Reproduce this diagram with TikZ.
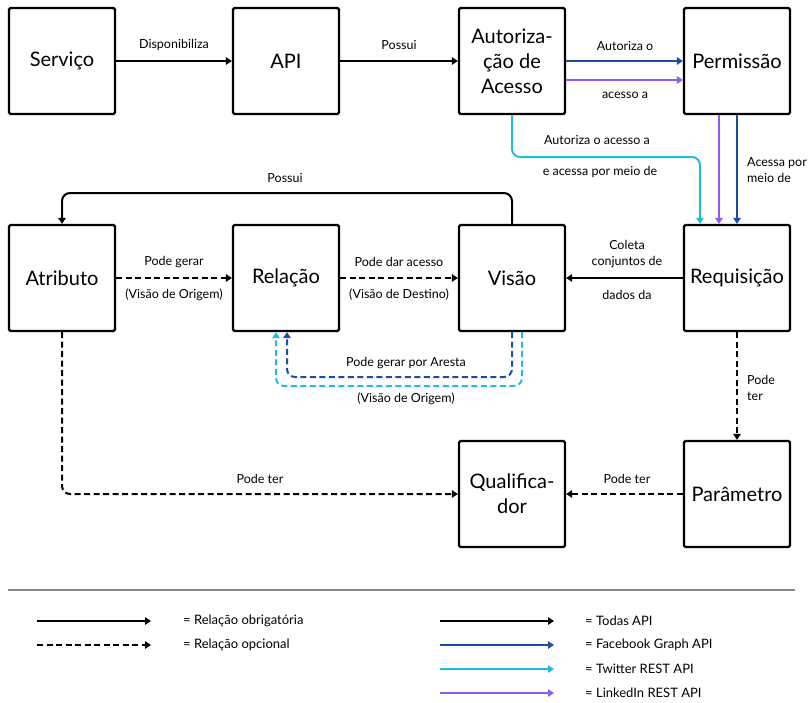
\documentclass[tikz,border=0pt]{standalone}
\usepackage{fontspec}
\setmainfont{Lato}
\usetikzlibrary{arrows.meta}
\definecolor{fbblue}{HTML}{1A4DA8}
\definecolor{twcyan}{HTML}{1EBDE0}
\definecolor{lipurple}{HTML}{8C5CF7}
\definecolor{rulegray}{HTML}{8A8A8A}

\begin{document}
\begin{tikzpicture}[x=1pt,y=-1pt,
  box/.style={draw,line width=2.2pt,minimum width=106pt,minimum height=106pt,
    inner sep=2pt,align=center,rounded corners=1.5pt,font=\fontsize{20}{25}\selectfont},
  conn/.style={line width=2pt,rounded corners=8pt,-{Triangle[length=6pt,width=7.5pt]}},
  opt/.style={conn,dash pattern=on 6pt off 3.5pt},
  lbl/.style={font=\fontsize{12.5}{16}\selectfont,inner sep=0pt,align=center},
  lbll/.style={lbl,anchor=west,align=left},
  leg/.style={font=\fontsize{13}{15}\selectfont,inner sep=0pt,anchor=west},
  fb/.style={draw=fbblue},
  tw/.style={draw=twcyan},
  li/.style={draw=lipurple}]
\useasboundingbox (0,0) rectangle (811,702);

% entity boxes
\node[box] (serv) at (62,61) {Serviço};
\node[box] (api)  at (286,61) {API};
\node[box] (auth) at (512,61) {Autoriza-\\ção de\\Acesso};
\node[box] (perm) at (737,61) {Permissão};
\node[box] (atr)  at (62,278) {Atributo};
\node[box] (rel)  at (286,278) {Relação};
\node[box] (vis)  at (512,278) {Visão};
\node[box] (req)  at (737,278) {Requisição};
\node[box] (qual) at (512,494) {Qualifica-\\dor};
\node[box] (par)  at (737,494) {Parâmetro};

% top row
\draw[conn] (serv) -- (api);
\node[lbl] (tDisp) at (174,45) {Disponibiliza};
\draw[conn] (api) -- (auth);
\node[lbl] (tPoss1) at (399,45) {Possui};
\draw[conn,fb] (auth.east) -- (perm.west);
\draw[conn,li] ([yshift=-19pt]auth.east) -- ([yshift=-19pt]perm.west);
\node[lbl] (tAut) at (625,46) {Autoriza o};
\node[lbl] (tAc) at (625,95) {acesso a};

% permissions towards the request
\draw[conn,li] ([xshift=-18pt]perm.south) -- ([xshift=-18pt]req.north);
\draw[conn,fb] (perm.south) -- (req.north);
\node[lbll] (tAcp) at (747,170) {Acessa por\\meio de};
\draw[conn,tw] (auth.south) -- (512,157) -- (700,157) -- ([xshift=-37pt]req.north);
\node[lbl] (tAoa) at (597,140) {Autoriza o acesso a};
\node[lbl] (tEap) at (600,172) {e acessa por meio de};

% view owns attributes
\draw[conn] (vis.north) -- (512,193) -- (62,193) -- (atr.north);
\node[lbl] (tPoss2) at (285,178) {Possui};

% middle row
\draw[opt] (atr) -- (rel);
\node[lbl] (tPg) at (174,262) {Pode gerar};
\node[lbl] (tVo1) at (174,295) {(Visão de Origem)};
\draw[opt] (rel) -- (vis);
\node[lbl] (tPda) at (399,262) {Pode dar acesso};
\node[lbl] (tVd) at (399,295) {(Visão de Destino)};
\draw[conn] (req) -- (vis);
\node[lbl] (tCol) at (627,254) {Coleta\\conjuntos de};
\node[lbl] (tDd) at (627,295) {dados da};

% edges generated by the view
\draw[opt,fb] (vis.south) -- (512,377) -- (287,377) -- ([xshift=1pt]rel.south);
\draw[opt,tw] ([xshift=10pt]vis.south) -- (522,386) -- (276,386) -- ([xshift=-10pt]rel.south);
\node[lbl] (tPga) at (406,363) {Pode gerar por Aresta};
\node[lbl] (tVo2) at (406,399) {(Visão de Origem)};

% optional links to parameter and qualifier
\draw[opt] (req) -- (par);
\node[lbll] (tPt1) at (747,388) {Pode\\ter};
\draw[opt] (par) -- (qual);
\node[lbl] (tPt2) at (627,479) {Pode ter};
\draw[opt] (atr.south) -- (62,494) -- (qual.west);
\node[lbl] (tPt3) at (260,479) {Pode ter};

% separator
\draw[rulegray,line width=2pt] (8,590) -- (795,590);

% legend
\coordinate (la1) at (37,621);  \coordinate (lb1) at (151,621);
\coordinate (la2) at (37,645);  \coordinate (lb2) at (151,645);
\coordinate (ra1) at (440,621); \coordinate (rb1) at (554,621);
\coordinate (ra2) at (440,645); \coordinate (rb2) at (554,645);
\coordinate (ra3) at (440,669); \coordinate (rb3) at (554,669);
\coordinate (ra4) at (440,693); \coordinate (rb4) at (554,693);
\draw[conn] (la1) -- (lb1);
\draw[opt] (la2) -- (lb2);
\draw[conn] (ra1) -- (rb1);
\draw[conn,fb] (ra2) -- (rb2);
\draw[conn,tw] (ra3) -- (rb3);
\draw[conn,li] (ra4) -- (rb4);
\node[leg] (g1) at (183,621) {= Relação obrigatória};
\node[leg] (g2) at (183,645) {= Relação opcional};
\node[leg] (g3) at (585,621) {= Todas API};
\node[leg] (g4) at (585,645) {= Facebook Graph API};
\node[leg] (g5) at (585,669) {= Twitter REST API};
\node[leg] (g6) at (585,693) {= LinkedIn REST API};
\end{tikzpicture}
\end{document}
